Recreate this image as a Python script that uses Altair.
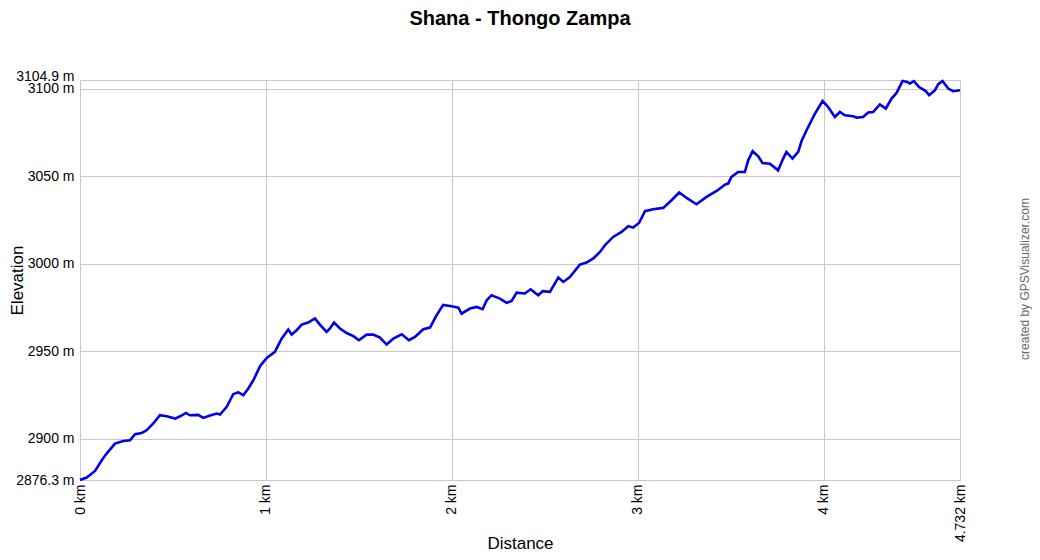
import altair as alt
import pandas as pd

distance_km = [0, 0.036, 0.081, 0.117, 0.143, 0.188, 0.233, 0.269, 0.296, 0.332, 0.358, 0.394,
               0.430, 0.466, 0.511, 0.538, 0.570, 0.591, 0.636, 0.663, 0.699, 0.735, 0.753, 0.789,
               0.824, 0.851, 0.878, 0.905, 0.932, 0.968, 1.004, 1.048, 1.084, 1.120, 1.138, 1.165,
               1.192, 1.227, 1.263, 1.290, 1.326, 1.344, 1.366, 1.398, 1.434, 1.470, 1.500, 1.541,
               1.577, 1.613, 1.649, 1.685, 1.730, 1.769, 1.801, 1.846, 1.882, 1.917, 1.953, 1.998,
               2.034, 2.052, 2.097, 2.133, 2.165, 2.187, 2.213, 2.258, 2.294, 2.321, 2.348, 2.392,
               2.423, 2.464, 2.488, 2.527, 2.572, 2.599, 2.634, 2.688, 2.724, 2.760, 2.796, 2.823,
               2.867, 2.912, 2.948, 2.975, 3.007, 3.038, 3.082, 3.136, 3.181, 3.222, 3.262, 3.315,
               3.369, 3.423, 3.468, 3.485, 3.503, 3.539, 3.575, 3.593, 3.617, 3.647, 3.670, 3.710,
               3.754, 3.781, 3.799, 3.831, 3.862, 3.880, 3.907, 3.952, 3.993, 4.023, 4.059, 4.086,
               4.113, 4.158, 4.176, 4.211, 4.238, 4.265, 4.301, 4.333, 4.364, 4.391, 4.423, 4.448,
               4.462, 4.484, 4.512, 4.548, 4.566, 4.597, 4.615, 4.638, 4.669, 4.695, 4.732]

elevation_m = [2876.3, 2877.7, 2881.5, 2887.6, 2891.4, 2897.1, 2898.6, 2899.0, 2902.5, 2903.2, 2904.7, 2908.6,
               2913.3, 2912.7, 2911.4, 2912.7, 2914.6, 2913.3, 2913.5, 2911.8, 2913.1, 2914.3, 2913.7, 2918.1,
               2925.3, 2926.5, 2924.7, 2928.6, 2933.3, 2941.3, 2946.1, 2949.5, 2957.1, 2962.3, 2959.4, 2961.9,
               2965.1, 2966.3, 2968.6, 2965.1, 2960.9, 2962.9, 2966.3, 2962.9, 2960.3, 2958.5, 2956.2, 2959.4,
               2959.4, 2957.7, 2953.7, 2957.1, 2959.6, 2956.2, 2958.1, 2962.5, 2963.4, 2970.4, 2976.4, 2975.6,
               2974.8, 2971.4, 2974.3, 2975.2, 2973.9, 2979.0, 2981.9, 2980.0, 2977.5, 2978.6, 2983.4, 2982.9,
               2985.3, 2981.9, 2984.2, 2983.8, 2992.0, 2989.5, 2992.3, 2999.4, 3000.6, 3002.9, 3006.6, 3010.5,
               3015.2, 3018.1, 3021.3, 3020.6, 3023.3, 3029.9, 3031.0, 3031.8, 3036.2, 3040.6, 3037.5, 3033.9,
               3038.1, 3041.5, 3045.1, 3045.7, 3049.5, 3052.3, 3052.3, 3059.0, 3064.2, 3061.3, 3057.5, 3057.1,
               3053.3, 3060.0, 3063.8, 3060.0, 3063.8, 3070.0, 3076.2, 3085.7, 3092.9, 3089.5, 3083.8, 3086.6,
               3084.7, 3084.2, 3083.4, 3083.8, 3086.3, 3086.6, 3090.9, 3088.6, 3094.3, 3097.5, 3104.3, 3103.8,
               3102.9, 3104.3, 3100.9, 3098.6, 3096.2, 3099.0, 3102.5, 3104.3, 3100.0, 3098.5, 3099.0]

x_ticks = [0, 1, 2, 3, 4, 4.732]
y_ticks = [2876.3, 2900, 2950, 3000, 3050, 3100, 3104.9]
title_text = "Shana - Thongo Zampa"
credit_text = "created by GPSVisualizer.com"

df = pd.DataFrame({"dist": distance_km, "elev": elevation_m})

FONT = "Liberation Sans"
GRID = "#c8c8c8"

line = alt.Chart(df).mark_line(color="#0000e6", strokeWidth=2.6, interpolate="linear").encode(
    x=alt.X("dist:Q",
            scale=alt.Scale(domain=[0, 4.732], nice=False, zero=False),
            axis=alt.Axis(values=x_ticks, labelExpr="datum.value + ' km'", labelAngle=270,
                          labelAlign="right", labelBaseline="middle", labelPadding=4,
                          labelFlush=False, labelOverlap=False, labelFontSize=14,
                          labelColor="#000000", ticks=False, domain=False,
                          grid=True, gridColor=GRID, gridWidth=1,
                          title="Distance", titleFontSize=17, titleFontWeight="normal",
                          titleColor="#000000", titleBaseline="alphabetic", titleY=68)),
    y=alt.Y("elev:Q",
            scale=alt.Scale(domain=[2876.3, 3104.9], nice=False, zero=False),
            axis=alt.Axis(values=y_ticks, labelExpr="datum.value + ' m'", labelPadding=6,
                          labelBaseline={"condition": {"test": "datum.value > 3104", "value": "alphabetic"},
                                         "value": "middle"},
                          labelFlush=False, labelOverlap=False, labelFontSize=14,
                          labelColor="#000000", ticks=False, domain=False,
                          grid=True, gridColor=GRID, gridWidth=1,
                          title="Elevation", titleFontSize=17, titleFontWeight="normal",
                          titleColor="#000000", titleBaseline="alphabetic", titleX=-58, titleY=200)),
)

title = alt.Chart(pd.DataFrame({"t": [title_text]})).mark_text(
    fontSize=20, fontWeight="bold", color="#000000", align="center", baseline="alphabetic", font=FONT
).encode(
    text="t:N",
    x=alt.value(440),
    y=alt.value(-55),
)

credit = alt.Chart(pd.DataFrame({"t": [credit_text]})).mark_text(
    angle=270, fontSize=12, color="#666666", align="center", baseline="middle", font=FONT
).encode(
    text="t:N",
    x=alt.value(945),
    y=alt.value(199),
)

chart = alt.layer(line, title, credit).properties(
    width=880,
    height=400,
    padding={"left": 72, "top": 72, "right": 72, "bottom": 72},
    autosize=alt.AutoSizeParams(type="none"),
).configure(
    font=FONT,
).configure_view(
    stroke=GRID, strokeWidth=1,
).configure_axis(
    labelFont=FONT, titleFont=FONT,
)

chart.save("out.html", embed_options={"renderer": "svg", "actions": False})
